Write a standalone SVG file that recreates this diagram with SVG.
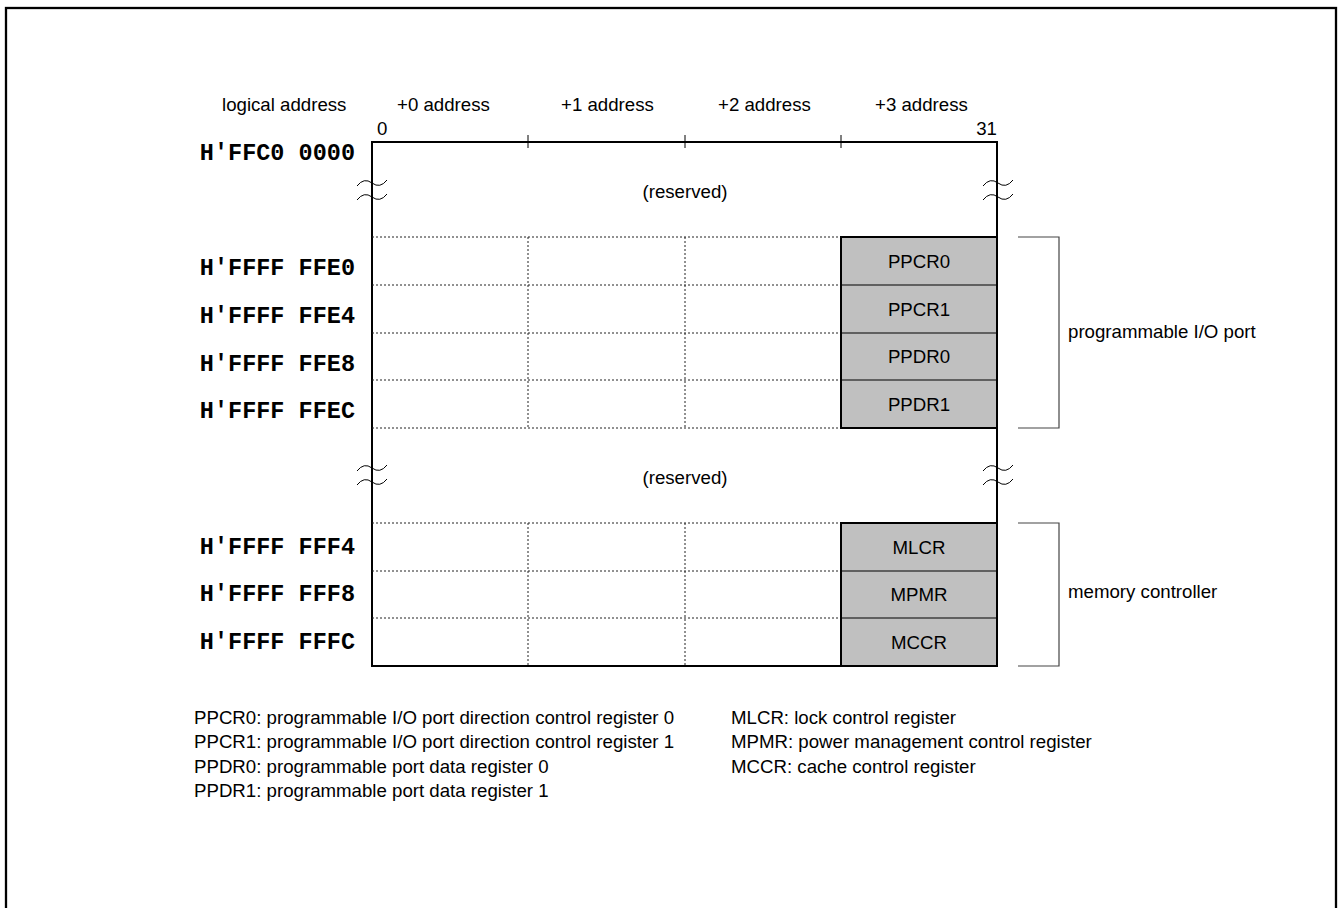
<svg xmlns="http://www.w3.org/2000/svg" width="1339" height="908" viewBox="0 0 1339 908">
<style>
.t{font-family:"Liberation Sans",Arial,Helvetica,sans-serif;font-size:18.67px;fill:#000}
.c{text-anchor:middle}
.a{font-family:"Liberation Mono","Courier New",monospace;font-weight:bold;font-size:23.5px;fill:#000;text-anchor:end}
.frame{fill:none;stroke:#000;stroke-width:2.3}
.box{fill:none;stroke:#000;stroke-width:2}
.dot{stroke:#222;stroke-width:1;stroke-dasharray:2 2;fill:none}
.reg{fill:#c0c0c0;stroke:#000;stroke-width:2}
.sep{stroke:#000;stroke-width:1}
.tick{stroke:#000;stroke-width:1}
.brk{fill:none;stroke:#000;stroke-width:1}
.brace{fill:none;stroke:#444;stroke-width:1.2}
</style>
<defs>
<path id="tl" d="M-15,3 Q-8,-6 0,0 T15,-3"/>
</defs>
<rect class="frame" x="6" y="8" width="1330" height="1000"/>

<g id="header">
<text class="t" x="222" y="111">logical address</text>
<text class="t" x="397" y="111">+0 address</text>
<text class="t" x="561" y="111">+1 address</text>
<text class="t" x="718" y="111">+2 address</text>
<text class="t" x="875" y="111">+3 address</text>
<text class="t" x="377" y="135">0</text>
<text class="t" x="997" y="135" text-anchor="end">31</text>
</g>

<g id="memory-map">
<path class="box" d="M372,666 V142 H997 V666 Z"/>
<line class="tick" x1="528" y1="135" x2="528" y2="148"/>
<line class="tick" x1="685" y1="135" x2="685" y2="148"/>
<line class="tick" x1="841" y1="135" x2="841" y2="148"/>
<g id="cells-1">
<path class="dot" d="M372,237H841M372,285H841M372,333H841M372,380H841M372,428H841M528,237V428M685,237V428"/>
</g>
<g id="cells-2">
<path class="dot" d="M372,523H841M372,571H841M372,618H841M528,523V666M685,523V666"/>
</g>
<g id="breaks">
<use href="#tl" class="brk" x="372" y="183"/>
<use href="#tl" class="brk" x="372" y="197"/>
<use href="#tl" class="brk" x="998" y="183"/>
<use href="#tl" class="brk" x="998" y="197"/>
<use href="#tl" class="brk" x="372" y="468"/>
<use href="#tl" class="brk" x="372" y="482"/>
<use href="#tl" class="brk" x="998" y="468"/>
<use href="#tl" class="brk" x="998" y="482"/>
</g>
<text class="t c" x="685" y="198">(reserved)</text>
<text class="t c" x="685" y="484">(reserved)</text>
</g>

<g id="registers-pio">
<rect class="reg" x="841" y="237" width="156" height="191"/>
<path class="sep" d="M841,285H997M841,333H997M841,380H997"/>
<text class="t c" x="919" y="268">PPCR0</text>
<text class="t c" x="919" y="315.5">PPCR1</text>
<text class="t c" x="919" y="363">PPDR0</text>
<text class="t c" x="919" y="410.5">PPDR1</text>
</g>

<g id="registers-mc">
<rect class="reg" x="841" y="523" width="156" height="143"/>
<path class="sep" d="M841,571H997M841,618H997"/>
<text class="t c" x="919" y="553.5">MLCR</text>
<text class="t c" x="919" y="601">MPMR</text>
<text class="t c" x="919" y="648.5">MCCR</text>
</g>

<g id="addresses">
<text class="a" x="355" y="160">H'FFC0 0000</text>
<text class="a" x="355" y="275">H'FFFF FFE0</text>
<text class="a" x="355" y="323">H'FFFF FFE4</text>
<text class="a" x="355" y="371">H'FFFF FFE8</text>
<text class="a" x="355" y="418">H'FFFF FFEC</text>
<text class="a" x="355" y="554">H'FFFF FFF4</text>
<text class="a" x="355" y="601">H'FFFF FFF8</text>
<text class="a" x="355" y="649">H'FFFF FFFC</text>
</g>

<g id="connectors">
<path class="brace" d="M1018,237H1059V428H1018"/>
<path class="brace" d="M1018,523H1059V666H1018"/>
</g>
<g id="group-labels">
<text class="t" x="1068" y="338">programmable I/O port</text>
<text class="t" x="1068" y="598">memory controller</text>
</g>

<g id="legend">
<text class="t" x="194" y="724">PPCR0: programmable I/O port direction control register 0</text>
<text class="t" x="194" y="748">PPCR1: programmable I/O port direction control register 1</text>
<text class="t" x="194" y="772.5">PPDR0: programmable port data register 0</text>
<text class="t" x="194" y="796.5">PPDR1: programmable port data register 1</text>
<text class="t" x="731" y="724">MLCR: lock control register</text>
<text class="t" x="731" y="748">MPMR: power management control register</text>
<text class="t" x="731" y="772.5">MCCR: cache control register</text>
</g>
</svg>
